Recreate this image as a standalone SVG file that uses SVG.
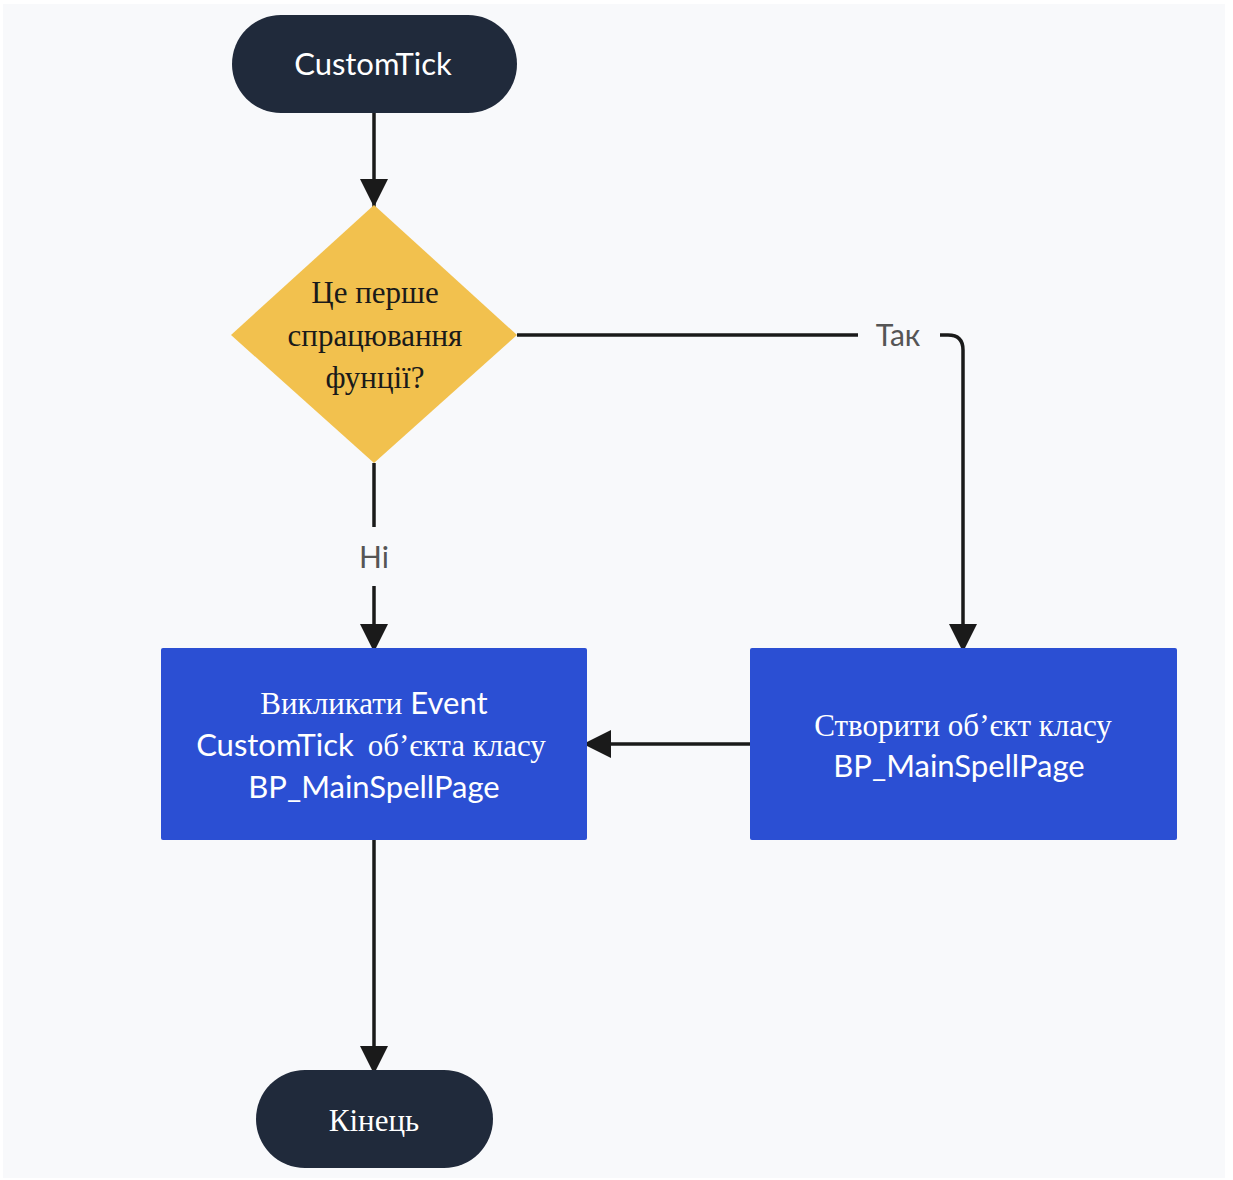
<svg xmlns="http://www.w3.org/2000/svg" width="1233" height="1180" viewBox="0 0 1233 1180">
<defs>
<marker id="ah" markerUnits="userSpaceOnUse" markerWidth="32" markerHeight="32" viewBox="0 0 32 32" refX="30" refY="16" orient="auto">
<path d="M2,2 L30,16 L2,30 Z" fill="#1a1a1a"/>
</marker>
<style>
.ln{fill:none;stroke:#1a1a1a;stroke-width:3.5}
.term{fill:#202a3b}
.box{fill:#2b4fd3}
.sans{font-family:Lato,"Liberation Sans",sans-serif}
.serif{font-family:"Liberation Serif","DejaVu Serif",serif}
.wt{fill:#ffffff;font-size:31px}
.lbl{fill:#555555;font-size:30px;font-family:Lato,"Liberation Sans",sans-serif}
</style>
</defs>
<rect x="0" y="0" width="1233" height="1180" fill="#ffffff"/>
<rect x="3" y="4" width="1222" height="1174" fill="#f8f9fb"/>
<g id="connectors">
<path class="ln" d="M374,113 V207" marker-end="url(#ah)"/>
<path class="ln" d="M517,335 H858"/>
<path class="ln" d="M940,335 H948 Q963,335 963,350 V652" marker-end="url(#ah)"/>
<path class="ln" d="M374,463 V527"/>
<path class="ln" d="M374,586 V652" marker-end="url(#ah)"/>
<path class="ln" d="M752,744 H583" marker-end="url(#ah)"/>
<path class="ln" d="M374,840 V1074" marker-end="url(#ah)"/>
<text class="lbl" x="898" y="346" text-anchor="middle">Так</text>
<text class="lbl" x="374" y="568" text-anchor="middle">Ні</text>
</g>
<g id="start">
<rect class="term" x="232" y="15" width="285" height="98" rx="49"/>
<text class="sans wt" x="373" y="75" text-anchor="middle">CustomTick</text>
</g>
<g id="decision">
<path d="M374,205 L517,335 L374,463 L231,335 Z" fill="#f2c14e"/>
<text class="serif" font-size="31" fill="#1a1a1a" text-anchor="middle"><tspan x="375" y="303">Це перше</tspan><tspan x="375" y="346">спрацювання</tspan><tspan x="375" y="388">фунції?</tspan></text>
</g>
<g id="call">
<rect class="box" x="161" y="648" width="426" height="192" rx="2"/>
<text class="wt" text-anchor="middle"><tspan x="374" y="714"><tspan class="serif">Викликати</tspan><tspan class="sans"> Event</tspan></tspan><tspan x="371" y="756"><tspan class="sans">CustomTick </tspan><tspan class="serif" dx="6">об’єкта класу</tspan></tspan><tspan x="374" y="798" class="sans">BP_MainSpellPage</tspan></text>
</g>
<g id="create">
<rect class="box" x="750" y="648" width="427" height="192" rx="2"/>
<text class="wt" text-anchor="middle"><tspan x="963" y="736" class="serif">Створити об’єкт класу</tspan><tspan x="959" y="777" class="sans">BP_MainSpellPage</tspan></text>
</g>
<g id="end">
<rect class="term" x="256" y="1070" width="237" height="98" rx="49"/>
<text class="serif wt" x="374" y="1131" text-anchor="middle">Кінець</text>
</g>
</svg>
